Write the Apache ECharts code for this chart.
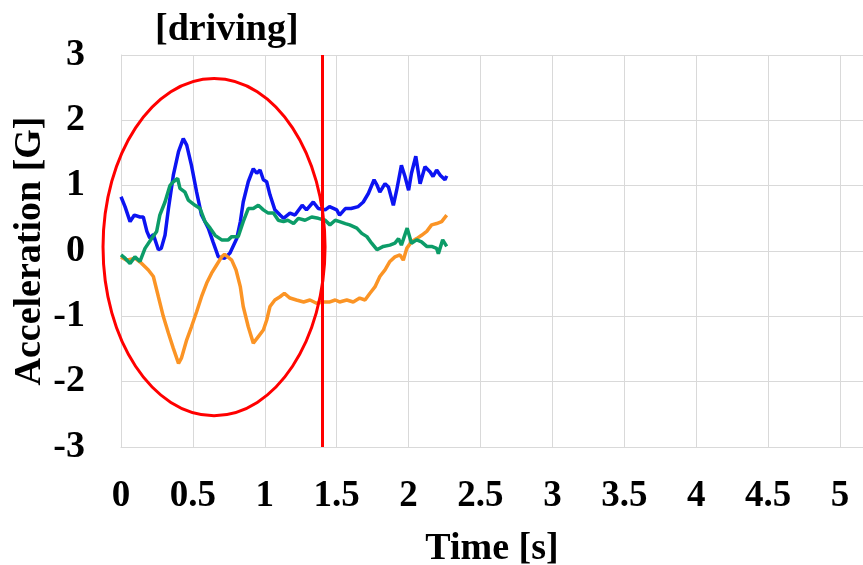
<!DOCTYPE html>
<html>
<head>
<meta charset="UTF-8">
<title>driving</title>
<style>
  html, body { margin: 0; padding: 0; background: #fff; }
  #chart { width: 863px; height: 565px; }
</style>
</head>
<body>
<div id="chart"></div>
<script src="https://cdn.jsdelivr.net/npm/echarts@6/dist/echarts.min.js"></script>
<script>
// time [s] / acceleration [G]
var blueTime = [0, 0.028, 0.063, 0.093, 0.132, 0.155, 0.18, 0.2, 0.225, 0.26, 0.28, 0.306, 0.33, 0.364, 0.4, 0.433, 0.457, 0.49, 0.526, 0.56, 0.607, 0.64, 0.677, 0.72, 0.758, 0.77, 0.805, 0.83, 0.85, 0.885, 0.92, 0.944, 0.967, 0.99, 1.013, 1.036, 1.07, 1.106, 1.13, 1.175, 1.21, 1.26, 1.29, 1.337, 1.372, 1.42, 1.45, 1.5, 1.52, 1.56, 1.6, 1.65, 1.685, 1.72, 1.76, 1.78, 1.8, 1.836, 1.86, 1.894, 1.917, 1.95, 1.975, 2.0, 2.02, 2.05, 2.08, 2.114, 2.15, 2.17, 2.195, 2.22, 2.253, 2.265];
var blueAcc = [0.83, 0.68, 0.45, 0.55, 0.52, 0.52, 0.3, 0.2, 0.25, 0.02, 0.04, 0.24, 0.65, 1.16, 1.52, 1.72, 1.62, 1.31, 0.9, 0.55, 0.35, 0.14, -0.09, -0.11, -0.03, -0.01, 0.19, 0.45, 0.75, 1.06, 1.26, 1.19, 1.24, 1.09, 1.06, 0.86, 0.63, 0.55, 0.5, 0.58, 0.55, 0.7, 0.63, 0.75, 0.65, 0.63, 0.68, 0.63, 0.55, 0.65, 0.65, 0.68, 0.75, 0.88, 1.09, 1.01, 0.9, 1.03, 0.98, 0.7, 0.93, 1.31, 1.14, 0.93, 1.19, 1.45, 1.03, 1.29, 1.21, 1.14, 1.24, 1.16, 1.09, 1.15];

var greenTime = [0, 0.028, 0.063, 0.097, 0.132, 0.167, 0.213, 0.248, 0.27, 0.306, 0.34, 0.364, 0.394, 0.41, 0.445, 0.468, 0.515, 0.55, 0.584, 0.62, 0.654, 0.7, 0.746, 0.77, 0.815, 0.85, 0.885, 0.92, 0.955, 0.99, 1.024, 1.06, 1.094, 1.13, 1.16, 1.2, 1.233, 1.28, 1.326, 1.372, 1.42, 1.453, 1.49, 1.52, 1.56, 1.59, 1.64, 1.674, 1.71, 1.743, 1.78, 1.824, 1.87, 1.905, 1.93, 1.95, 1.99, 2.02, 2.056, 2.09, 2.126, 2.16, 2.195, 2.207, 2.237, 2.265];
var greenAcc = [-0.06, -0.11, -0.19, -0.09, -0.16, 0.04, 0.19, 0.3, 0.55, 0.75, 1.0, 1.06, 1.11, 0.96, 0.9, 0.78, 0.7, 0.65, 0.45, 0.35, 0.24, 0.17, 0.17, 0.22, 0.22, 0.45, 0.65, 0.65, 0.7, 0.63, 0.58, 0.58, 0.47, 0.45, 0.47, 0.42, 0.5, 0.47, 0.52, 0.5, 0.47, 0.4, 0.47, 0.45, 0.42, 0.4, 0.35, 0.27, 0.22, 0.12, 0.02, 0.07, 0.09, 0.12, 0.19, 0.09, 0.35, 0.12, 0.17, 0.14, 0.07, 0.07, 0.04, -0.04, 0.17, 0.07];

var orangeTime = [0, 0.04, 0.097, 0.144, 0.19, 0.225, 0.26, 0.294, 0.33, 0.364, 0.4, 0.42, 0.457, 0.49, 0.526, 0.56, 0.596, 0.63, 0.666, 0.7, 0.72, 0.77, 0.8, 0.83, 0.85, 0.885, 0.92, 0.955, 0.99, 1.013, 1.036, 1.07, 1.106, 1.136, 1.175, 1.22, 1.27, 1.314, 1.36, 1.407, 1.453, 1.49, 1.52, 1.57, 1.615, 1.66, 1.697, 1.73, 1.766, 1.8, 1.836, 1.87, 1.905, 1.94, 1.963, 1.987, 2.02, 2.056, 2.09, 2.126, 2.16, 2.195, 2.23, 2.265];
var orangeAcc = [-0.09, -0.14, -0.11, -0.19, -0.29, -0.39, -0.7, -1.0, -1.26, -1.49, -1.72, -1.64, -1.36, -1.16, -0.93, -0.7, -0.49, -0.34, -0.21, -0.09, -0.05, -0.14, -0.29, -0.55, -0.85, -1.16, -1.41, -1.31, -1.21, -1.06, -0.85, -0.75, -0.7, -0.65, -0.72, -0.75, -0.78, -0.75, -0.8, -0.78, -0.78, -0.75, -0.78, -0.75, -0.78, -0.72, -0.75, -0.65, -0.55, -0.39, -0.29, -0.16, -0.09, -0.06, -0.14, 0.04, 0.14, 0.19, 0.24, 0.3, 0.4, 0.42, 0.45, 0.55];

var markTime = 1.40;   // red vertical marker

function pairs(t, v) {
  var out = [];
  for (var i = 0; i < t.length; i++) out.push([t[i], v[i]]);
  return out;
}

var font = '"Liberation Serif", "Times New Roman", serif';
var gridColor = '#d9d9d9';

var chart = echarts.init(document.getElementById('chart'));

function lineSeries(name, color, data) {
  return {
    name: name,
    type: 'line',
    data: data,
    symbol: 'none',
    smooth: false,
    lineStyle: { color: color, width: 3.5 },
    z: 3
  };
}

var blue = lineSeries('blue', '#0c14f2', pairs(blueTime, blueAcc));
blue.markLine = {
  silent: true,
  symbol: 'none',
  label: { show: false },
  lineStyle: { color: '#ff0000', width: 3, type: 'solid' },
  data: [{ xAxis: markTime }]
};

var option = {
  animation: false,
  backgroundColor: '#fff',
  title: {
    text: '[driving]',
    left: 150,
    top: 6,
    textStyle: { fontFamily: font, fontWeight: 'bold', fontSize: 38, color: '#000' }
  },
  grid: { left: 121, right: 0, top: 55, bottom: 118, outerBoundsMode: 'none' },
  xAxis: {
    type: 'value',
    min: 0,
    max: 5.16,
    interval: 0.5,
    name: 'Time [s]',
    nameLocation: 'middle',
    nameGap: 83,
    nameMoveOverlap: false,
    nameTextStyle: { fontFamily: font, fontWeight: 'bold', fontSize: 38, color: '#000' },
    axisLine: { show: true, onZero: false, lineStyle: { color: gridColor, width: 1 } },
    axisTick: { show: false },
    axisLabel: {
      fontFamily: font, fontWeight: 'bold', fontSize: 37, color: '#000', margin: 31,
      showMaxLabel: false,
      formatter: function (v) { return String(v); }
    },
    splitLine: { show: true, showMaxLine: false, lineStyle: { color: gridColor, width: 1 } }
  },
  yAxis: {
    type: 'value',
    min: -3,
    max: 3,
    interval: 1,
    name: 'Acceleration [G]',
    nameLocation: 'middle',
    nameGap: 72,
    nameMoveOverlap: false,
    nameTextStyle: { fontFamily: font, fontWeight: 'bold', fontSize: 38, color: '#000' },
    axisLine: { show: true, onZero: false, lineStyle: { color: gridColor, width: 1 } },
    axisTick: { show: false },
    axisLabel: { fontFamily: font, fontWeight: 'bold', fontSize: 38, color: '#000', margin: 36 },
    splitLine: { show: true, lineStyle: { color: gridColor, width: 1 } }
  },
  series: [
    blue,
    lineSeries('orange', '#fb9425', pairs(orangeTime, orangeAcc)),
    lineSeries('green', '#0c9c68', pairs(greenTime, greenAcc))
  ]
};
chart.setOption(option);

// red ellipse around the first part of the run (data units)
var ellipseCenter = [0.647, 0.06];
var ellipseRadius = [0.772, 2.58];
var c = chart.convertToPixel({ gridIndex: 0 }, ellipseCenter);
var e = chart.convertToPixel({ gridIndex: 0 }, [ellipseCenter[0] + ellipseRadius[0], ellipseCenter[1] + ellipseRadius[1]]);
chart.setOption({
  graphic: [{
    type: 'ellipse',
    silent: true,
    z: 10,
    shape: { cx: c[0], cy: c[1], rx: e[0] - c[0], ry: c[1] - e[1] },
    style: { fill: 'none', stroke: '#ff0000', lineWidth: 3 }
  }]
});
</script>
</body>
</html>
